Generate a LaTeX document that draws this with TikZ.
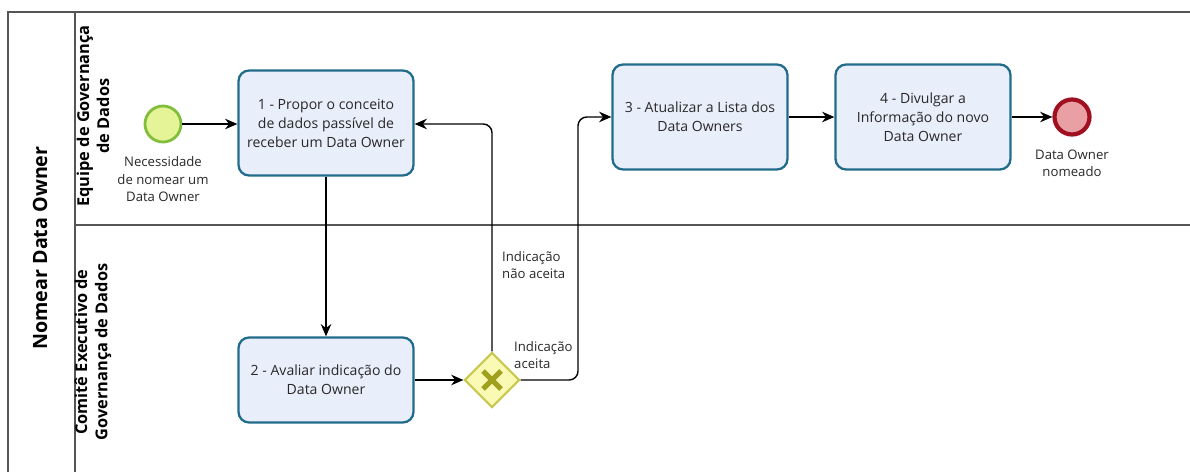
\documentclass[tikz,border=0pt]{standalone}
\usepackage{fontspec}
\setmainfont{Open Sans}
\usepackage{xcolor}
\definecolor{pool-line}{RGB}{85,85,85}
\definecolor{task-fill}{RGB}{233,238,251}
\definecolor{task-border}{RGB}{32,108,138}
\definecolor{start-fill}{RGB}{228,244,150}
\definecolor{start-border}{RGB}{128,190,60}
\definecolor{end-fill}{RGB}{232,160,165}
\definecolor{end-border}{RGB}{160,16,32}
\definecolor{gate-fill}{RGB}{250,250,180}
\definecolor{gate-border}{RGB}{200,200,80}
\definecolor{gate-mark}{RGB}{160,160,30}
\definecolor{text-main}{RGB}{40,40,40}
\usetikzlibrary{positioning,arrows.meta,shapes.geometric}

\begin{document}
\begin{tikzpicture}[
  x=0.02cm, y=-0.02cm,
  task/.style={
    rectangle,
    draw=task-border,
    fill=task-fill,
    line width=1.3pt,
    rounded corners=6pt,
    minimum width=3.5cm,
    minimum height=2.1cm,
    align=center,
    font=\fontsize{8}{10.8}\selectfont,
    text=text-main
  },
  startev/.style={
    circle,
    draw=start-border,
    fill=start-fill,
    line width=1.6pt,
    minimum size=0.72cm,
    inner sep=0pt
  },
  endev/.style={
    circle,
    draw=end-border,
    fill=end-fill,
    line width=2.4pt,
    minimum size=0.7cm,
    inner sep=0pt
  },
  gate/.style={
    diamond,
    draw=gate-border,
    fill=gate-fill,
    line width=1.2pt,
    minimum width=1.1cm,
    minimum height=1.1cm,
    inner sep=0pt
  },
  flow/.style={
    -{Stealth[length=7pt,width=6pt]},
    line width=0.8pt,
    draw=black,
    rounded corners=5pt
  },
  evlabel/.style={
    font=\fontsize{7.5}{10}\selectfont,
    text=text-main,
    align=center
  },
  lanetitle/.style={
    font=\bfseries\fontsize{9.3}{11.5}\selectfont,
    text=black,
    align=center,
    rotate=90
  }
]
\useasboundingbox (0,0) rectangle (1190,472);

% Pool and lanes
\draw[pool-line, line width=1pt] (1190,12) -- (8,12) -- (8,472);
\draw[pool-line, line width=1pt] (75,12) -- (75,472);
\draw[pool-line, line width=1pt] (75,225) -- (1190,225);
\node[lanetitle, font=\bfseries\fontsize{11.2}{13}\selectfont] (pool) at (40,248) {Nomear Data Owner};
\node[lanetitle] (laneA) at (93,116) {Equipe de Governança\\de Dados};
\node[lanetitle] (laneB) at (93,352) {Comitê Executivo de\\Governança de Dados};

% Events
\node[startev] (start) at (163,124) {};
\node[evlabel, below=0.14cm of start] (startlbl) {Necessidade\\de nomear um\\Data Owner};
\node[endev] (finish) at (1072,117) {};
\node[evlabel, below=0.14cm of finish] (finishlbl) {Data Owner\\nomeado};

% Tasks
\node[task] (propor) at (326,123) {1 - Propor o conceito\\de dados passível de\\receber um Data Owner};
\node[task, minimum height=1.7cm] (avaliar) at (326,380) {2 - Avaliar indicação do\\Data Owner};
\node[task] (atualizar) at (700,117) {3 - Atualizar a Lista dos\\Data Owners};
\node[task] (divulgar) at (923,117) {4 - Divulgar a\\Informação do novo\\Data Owner};

% Gateway
\node[gate] (xor) at (492,380) {};
\draw[gate-mark, line width=3pt] ([shift={(-9,-9)}]xor.center) -- ([shift={(9,9)}]xor.center);
\draw[gate-mark, line width=3pt] ([shift={(-9,9)}]xor.center) -- ([shift={(9,-9)}]xor.center);

% Sequence flows
\draw[flow] (start) -- (start -| propor.west);
\draw[flow] (propor.south) -- (avaliar.north);
\draw[flow] (avaliar.east) -- (xor.west);
\draw[flow] (xor.north) -- (492,124) -- (propor.east |- 0,124);
\draw[flow] (xor.east) -- (578,380) -- (578,117) -- (atualizar.west);
\draw[flow] (atualizar.east) -- (divulgar.west);
\draw[flow] (divulgar.east) -- (finish);

% Flow labels
\node[evlabel, align=left, anchor=north west] (naolbl) at (496,245) {Indicação\\não aceita};
\node[evlabel, align=left, anchor=north west] (simlbl) at (508,335) {Indicação\\aceita};

\end{tikzpicture}
\end{document}
